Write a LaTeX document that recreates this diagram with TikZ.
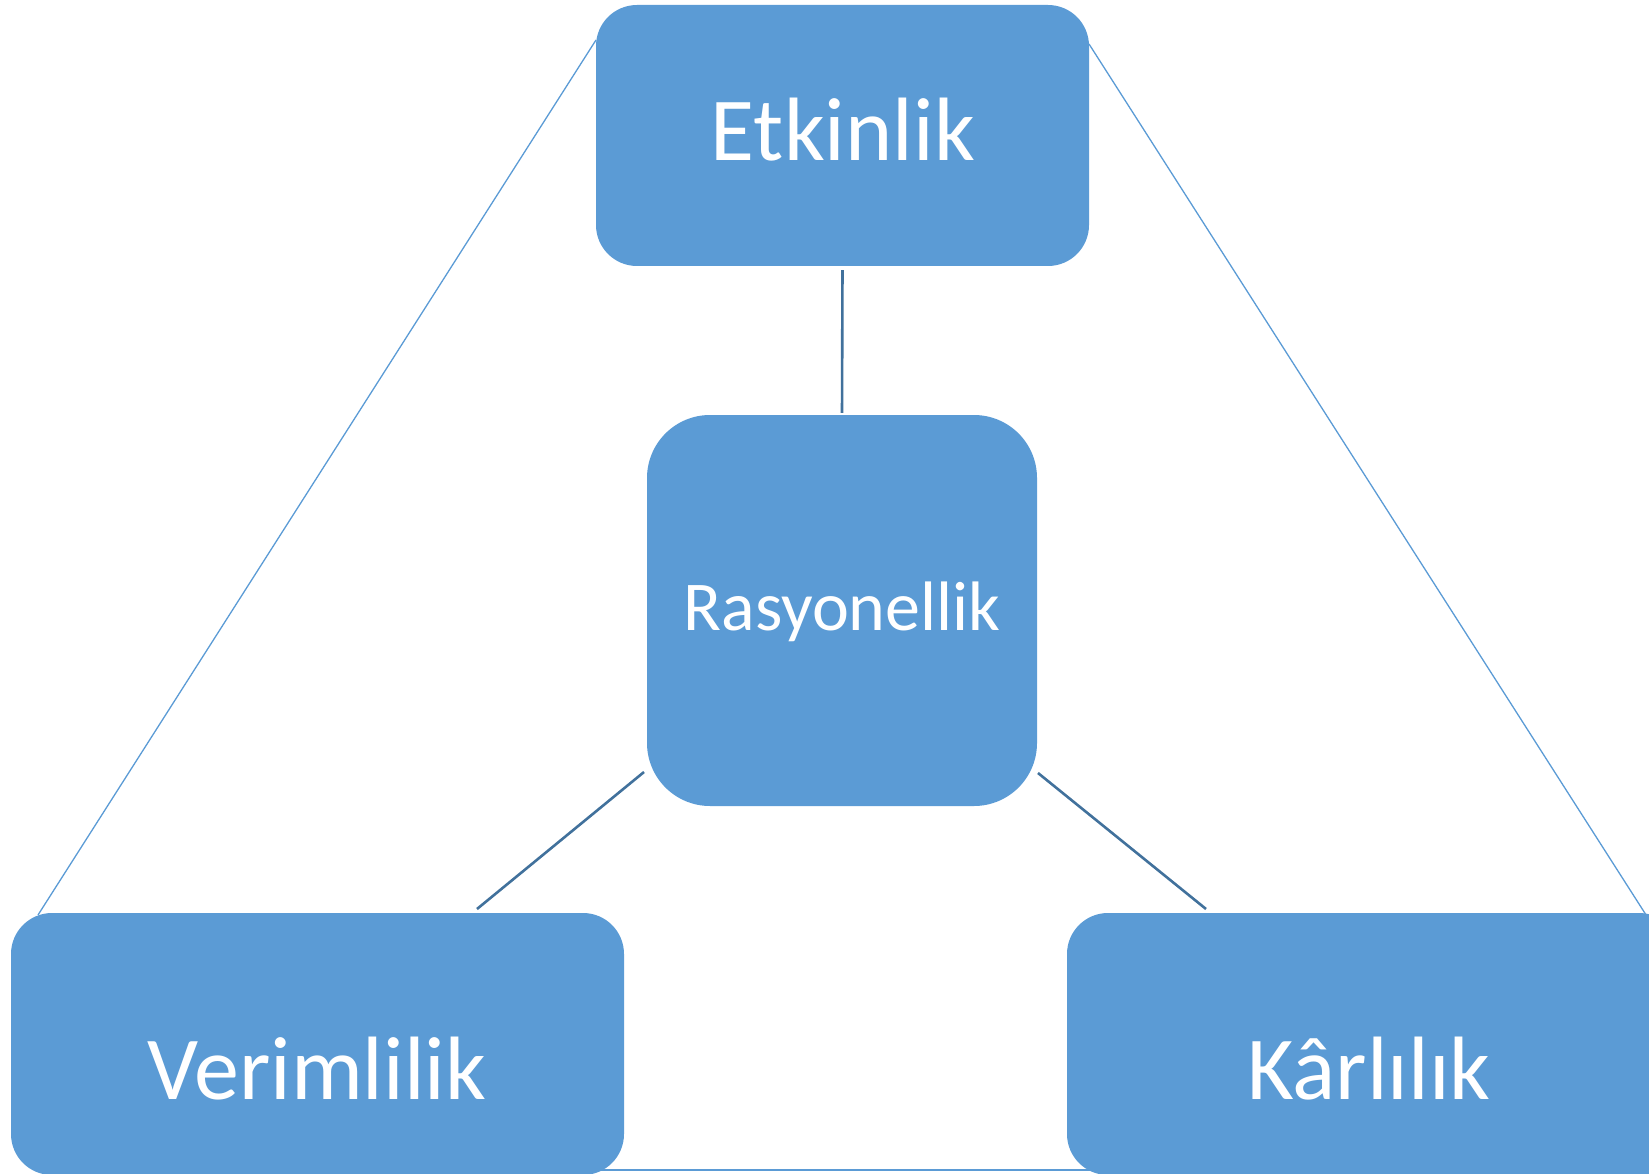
\documentclass[tikz,border=0pt]{standalone}
\usepackage{fontspec}
\setmainfont{Carlito}
\pgfdeclarelayer{bg}
\pgfsetlayers{bg,main}
\definecolor{boxblue}{HTML}{5B9BD5}
\definecolor{linkblue}{HTML}{41719C}
\tikzset{
  box/.style={fill=boxblue, draw=none, rounded corners=#1, inner sep=0pt},
  box/.default=41pt,
  lbl/.style={text=white, anchor=base, inner sep=0pt},
  big/.style={font=\fontsize{90}{108}\selectfont},
  mid/.style={font=\fontsize{70}{84}\selectfont},
  link/.style={draw=linkblue, line width=2.6pt},
  outer/.style={draw=boxblue, line width=1.3pt}
}
\begin{document}
\begin{tikzpicture}[x=1pt,y=-1pt]
\useasboundingbox (0,0) rectangle (1649,1174);
% boxes
\node[box, minimum width=493pt, minimum height=261pt] (etk) at (842.5,135.5) {};
\node[box=63pt, minimum width=390pt, minimum height=391pt] (ras) at (842,610.5) {};
\node[box, minimum width=613pt, minimum height=262pt] (ver) at (317.5,1044) {};
\node[box, minimum width=613pt, minimum height=262pt] (kar) at (1373.5,1044) {};
% labels
\node[lbl, big] (etkT) at (843,161) {Etkinlik};
\node[lbl, mid] (rasT) at (842,630) {Rasyonellik};
\node[lbl, big] (verT) at (317,1099) {Verimlilik};
\node[lbl, big] (karT) at (1369,1099) {Kârlılık};
% connector end points
\coordinate (rasSW) at (644,772);
\coordinate (rasSE) at (1038,773);
\coordinate (verN) at (477,909);
\coordinate (karN) at (1206,909);
\coordinate (etkW) at (596,40);
\coordinate (etkE) at (1089,44);
\coordinate (verNW) at (38,915);
\coordinate (karNE) at (1648,918);
\coordinate (verSE) at (597,1170);
\coordinate (karSW) at (1090,1170);
% inner links
\draw[link, shorten <=4pt, shorten >=2pt] (etk.south) -- (ras.north);
\draw[link] (rasSW) -- (verN);
\draw[link] (rasSE) -- (karN);
% outer triangle
\begin{pgfonlayer}{bg}
\draw[outer] (etkW) -- (verNW);
\draw[outer] (etkE) -- (karNE);
\draw[outer] (verSE) -- (karSW);
\end{pgfonlayer}
\end{tikzpicture}
\end{document}
